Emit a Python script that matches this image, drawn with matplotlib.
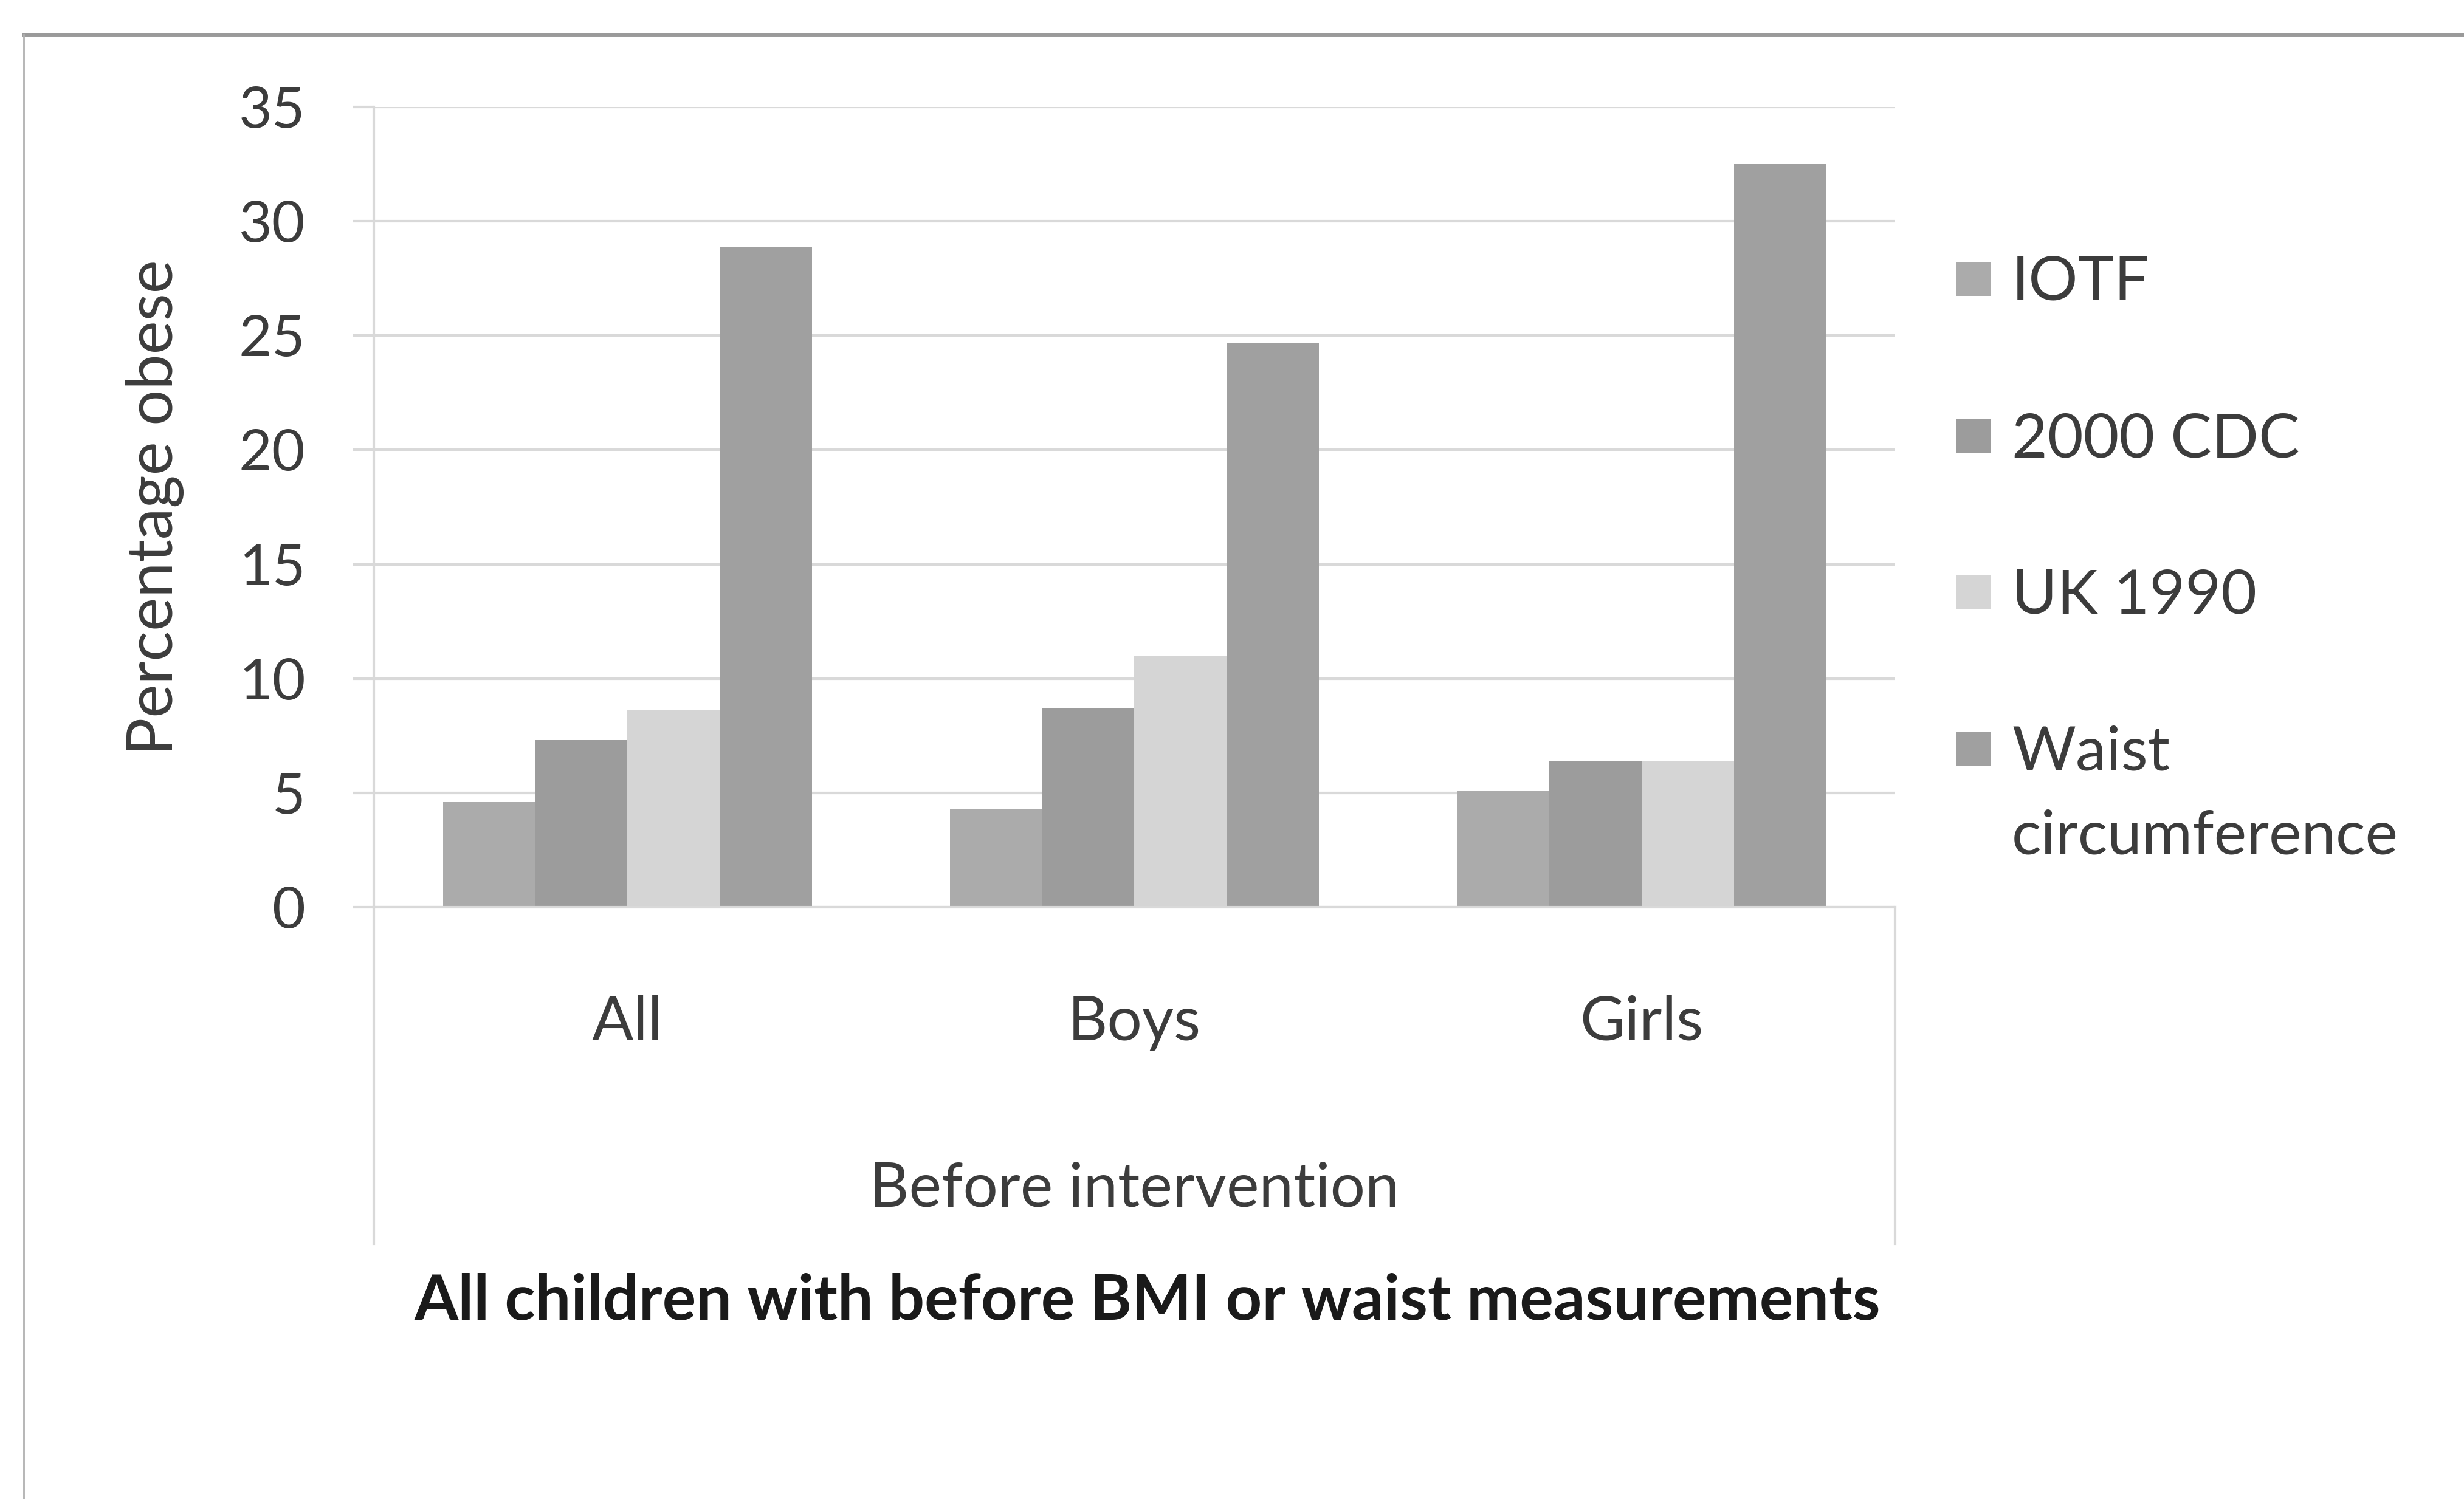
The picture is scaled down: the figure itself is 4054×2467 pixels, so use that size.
import matplotlib.pyplot as plt
from matplotlib.lines import Line2D
from matplotlib.patches import Rectangle
import matplotlib.transforms as mtransforms
import numpy as np

plt.rcParams["font.family"] = ["Lato", "DejaVu Sans"]

# ---- data ----
groups = ["All", "Boys", "Girls"]
series_names = ["IOTF", "2000 CDC", "UK 1990", "Waist\ncircumference"]
iotf = [4.6, 4.3, 5.1]
cdc_2000 = [7.3, 8.7, 6.4]
uk_1990 = [8.6, 11.0, 6.4]
waist = [28.9, 24.7, 32.5]
y_ticks = [0, 5, 10, 15, 20, 25, 30, 35]

series_values = [iotf, cdc_2000, uk_1990, waist]
colors = ["#ababab", "#9c9c9c", "#d5d5d5", "#a0a0a0"]

GRID = "#d9d9d9"
TEXT = "#3c3c3c"
FS_NUM = 68
FS_TXT = 73

# ---- figure (pixel layout) ----
W, H = 4055, 2467
fig = plt.figure(figsize=(W / 100, H / 100), dpi=100)
fig.patch.set_facecolor("white")

ax_l, ax_r, ax_t, ax_b = 615, 3118, 176, 1493
ax = fig.add_axes([ax_l / W, 1 - ax_b / H, (ax_r - ax_l) / W, (ax_b - ax_t) / H])

x = np.arange(len(groups))
bar_w = 1 / 5.5  # four bars + 150% gap
for i, (vals, c) in enumerate(zip(series_values, colors)):
    ax.bar(x + (i - 1.5) * bar_w, vals, width=bar_w, color=c, edgecolor="none", zorder=2)

ax.set_xlim(-0.5, 2.5)
ax.set_ylim(0, 35)
ax.set_yticks(y_ticks)
ax.set_yticklabels([str(t) for t in y_ticks], fontsize=FS_NUM, color=TEXT)
ax.tick_params(axis="y", length=25, width=3, color=GRID, pad=56)
ax.set_xticks([])
ax.yaxis.grid(True, color=GRID, linewidth=3, zorder=0)
ax.set_axisbelow(True)

for s in ["top", "right"]:
    ax.spines[s].set_visible(False)
for s in ["left", "bottom"]:
    ax.spines[s].set_color(GRID)
    ax.spines[s].set_linewidth(3)

# category labels and the outer level of the category axis
trans = mtransforms.blended_transform_factory(ax.transData, fig.transFigure)
for xi, g in zip(x, groups):
    ax.text(xi, 1 - 1712 / H, g, transform=trans, ha="center", va="baseline",
            fontsize=FS_TXT, color=TEXT)

box_bottom = 1 - 2047 / H
for xe in [-0.5, 2.5]:
    ax.add_line(Line2D([xe, xe], [1 - ax_b / H, box_bottom], transform=trans,
                       color=GRID, linewidth=3, clip_on=False))

ax.text(1.0, 1 - 1986 / H, "Before intervention", transform=trans, ha="center",
        va="baseline", fontsize=FS_TXT, color=TEXT)

fig.text(1888 / W, 1 - 2172 / H, "All children with before BMI or waist measurements",
         ha="center", va="baseline", fontsize=75, fontweight="bold", color="#1a1a1a")

fig.text(255 / W, 1 - 835 / H, "Percentage obese", rotation=90, ha="center", va="center",
         fontsize=75, color=TEXT)

# legend: square beside the first line of each entry
for i, (name, c) in enumerate(zip(series_names, colors)):
    base = 494 + 258 * i
    fig.patches.append(Rectangle((3219 / W, 1 - (base - 7) / H), 56 / W, 56 / H,
                                 transform=fig.transFigure, facecolor=c, edgecolor="none"))
    for j, line in enumerate(name.split("\n")):
        fig.text(3310 / W, 1 - (base + 137 * j) / H, line, ha="left", va="baseline",
                 fontsize=FS_TXT, color=TEXT)

# chart frame
fig.add_artist(Line2D([39 / W, 1], [1 - 57 / H, 1 - 57 / H], transform=fig.transFigure,
                      color="#9a9a9a", linewidth=5))
fig.add_artist(Line2D([39 / W, 39 / W], [1 - 57 / H, 0], transform=fig.transFigure,
                      color="#b0b0b0", linewidth=2))

fig.savefig("out.png", dpi=100, facecolor="white")
